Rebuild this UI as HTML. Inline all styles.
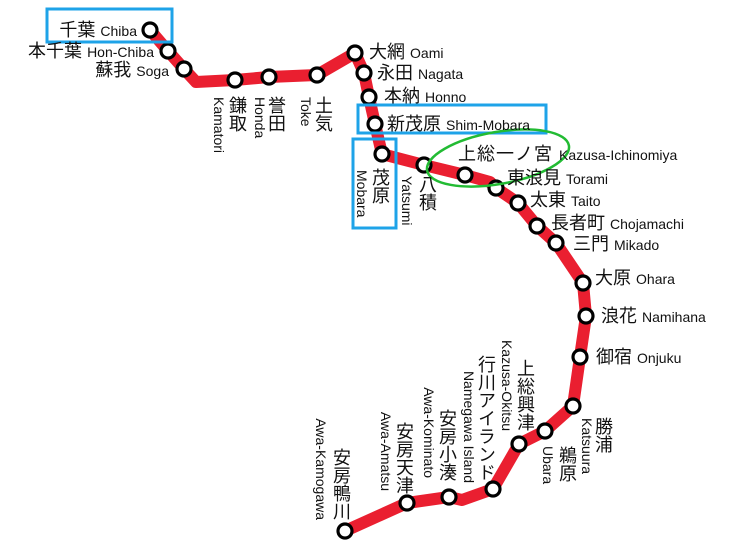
<!DOCTYPE html>
<html><head><meta charset="utf-8"><style>
html,body{margin:0;padding:0;background:#fff;}
svg{display:block;}
text{font-family:"Liberation Sans","Noto Sans CJK JP",sans-serif;fill:#111;}
.k{font-size:18px;}
.r{font-size:14px;}
.v{writing-mode:vertical-rl;font-size:18px;}
</style></head><body>
<svg width="736" height="546" viewBox="0 0 736 546" xmlns="http://www.w3.org/2000/svg">
<polyline fill="none" stroke="#ea1f30" stroke-width="12" stroke-linejoin="round" points="150,30 168,51 184,69 196,82 235,80 269,77 317,75 355,53 364,73 369,97 375,124 382,154 424,165 465,175 490,182 496,188 518,203 537,226 556,243 583,283 586,316 580,357 573,406 545,431 519,444 493,489 462,500 449,497 407,503 345,531"/>
<g fill="#fff" stroke="#000" stroke-width="3.2">
<circle cx="150" cy="30" r="7"/><circle cx="168" cy="51" r="7"/><circle cx="184" cy="69" r="7"/>
<circle cx="235" cy="80" r="7"/><circle cx="269" cy="77" r="7"/><circle cx="317" cy="75" r="7"/>
<circle cx="355" cy="53" r="7"/><circle cx="364" cy="73" r="7"/><circle cx="369" cy="97" r="7"/>
<circle cx="375" cy="124" r="7"/><circle cx="382" cy="154" r="7"/><circle cx="424" cy="165" r="7"/>
<circle cx="465" cy="175" r="7"/><circle cx="496" cy="188" r="7"/><circle cx="518" cy="203" r="7"/>
<circle cx="537" cy="226" r="7"/><circle cx="556" cy="243" r="7"/><circle cx="583" cy="283" r="7"/>
<circle cx="586" cy="316" r="7"/><circle cx="580" cy="357" r="7"/><circle cx="573" cy="406" r="7"/>
<circle cx="545" cy="431" r="7"/><circle cx="519" cy="444" r="7"/><circle cx="493" cy="489" r="7"/>
<circle cx="449" cy="497" r="7"/><circle cx="407" cy="503" r="7"/><circle cx="345" cy="531" r="7"/>
</g>
<g fill="none" stroke="#1ea3e8" stroke-width="3">
<rect x="47" y="9" width="125" height="33"/>
<rect x="358" y="105" width="188" height="28"/>
<rect x="353" y="139" width="43" height="89"/>
</g>
<ellipse cx="498" cy="158" rx="72" ry="26" transform="rotate(-10 498 158)" fill="none" stroke="#22bb33" stroke-width="2.5"/>
<text x="137" y="36" text-anchor="end"><tspan class="k">千葉 </tspan><tspan class="r">Chiba</tspan></text>
<text x="154" y="57" text-anchor="end"><tspan class="k">本千葉 </tspan><tspan class="r">Hon-Chiba</tspan></text>
<text x="169" y="76" text-anchor="end"><tspan class="k">蘇我 </tspan><tspan class="r">Soga</tspan></text>
<text x="369" y="58"><tspan class="k">大網 </tspan><tspan class="r">Oami</tspan></text>
<text x="377" y="79"><tspan class="k">永田 </tspan><tspan class="r">Nagata</tspan></text>
<text x="384" y="102"><tspan class="k">本納 </tspan><tspan class="r">Honno</tspan></text>
<text x="387" y="130"><tspan class="k">新茂原 </tspan><tspan class="r">Shim-Mobara</tspan></text>
<text x="458" y="160"><tspan class="k" letter-spacing="1">上総一ノ宮 </tspan><tspan class="r">Kazusa-Ichinomiya</tspan></text>
<text x="507" y="184"><tspan class="k">東浪見 </tspan><tspan class="r">Torami</tspan></text>
<text x="530" y="206"><tspan class="k">太東 </tspan><tspan class="r">Taito</tspan></text>
<text x="551" y="229"><tspan class="k">長者町 </tspan><tspan class="r">Chojamachi</tspan></text>
<text x="573" y="250"><tspan class="k">三門 </tspan><tspan class="r">Mikado</tspan></text>
<text x="595" y="284"><tspan class="k">大原 </tspan><tspan class="r">Ohara</tspan></text>
<text x="601" y="322"><tspan class="k">浪花 </tspan><tspan class="r">Namihana</tspan></text>
<text x="596" y="363"><tspan class="k">御宿 </tspan><tspan class="r">Onjuku</tspan></text>
<text class="v" x="237" y="96">鎌取</text>
<text class="v" x="276" y="96">誉田</text>
<text class="v" x="323" y="96">土気</text>
<text class="v" x="380" y="168">茂原</text>
<text class="v" x="427" y="175">八積</text>
<text class="v" x="603" y="417">勝浦</text>
<text class="v" x="567" y="446">鵜原</text>
<text class="r" transform="translate(214,97) rotate(90)">Kamatori</text>
<text class="r" transform="translate(255,97) rotate(90)">Honda</text>
<text class="r" transform="translate(301,97) rotate(90)">Toke</text>
<text class="r" transform="translate(357,170) rotate(90)">Mobara</text>
<text class="r" transform="translate(402,176) rotate(90)">Yatsumi</text>
<text class="r" transform="translate(582,418) rotate(90)">Katsuura</text>
<text class="r" transform="translate(543,446) rotate(90)">Ubara</text>
<text class="v" x="525" y="431" text-anchor="end">上総興津</text>
<text class="v" x="486" y="481" text-anchor="end">行川アイランド</text>
<text class="v" x="447" y="481" text-anchor="end">安房小湊</text>
<text class="v" x="404" y="494" text-anchor="end">安房天津</text>
<text class="v" x="341" y="520" text-anchor="end">安房鴨川</text>
<text class="r" text-anchor="end" transform="translate(502,431) rotate(90)">Kazusa-Okitsu</text>
<text class="r" text-anchor="end" transform="translate(464,483) rotate(90)">Namegawa Island</text>
<text class="r" text-anchor="end" transform="translate(424,478) rotate(90)">Awa-Kominato</text>
<text class="r" text-anchor="end" transform="translate(381,491) rotate(90)">Awa-Amatsu</text>
<text class="r" text-anchor="end" transform="translate(316,520) rotate(90)">Awa-Kamogawa</text>
</svg>
</body></html>
